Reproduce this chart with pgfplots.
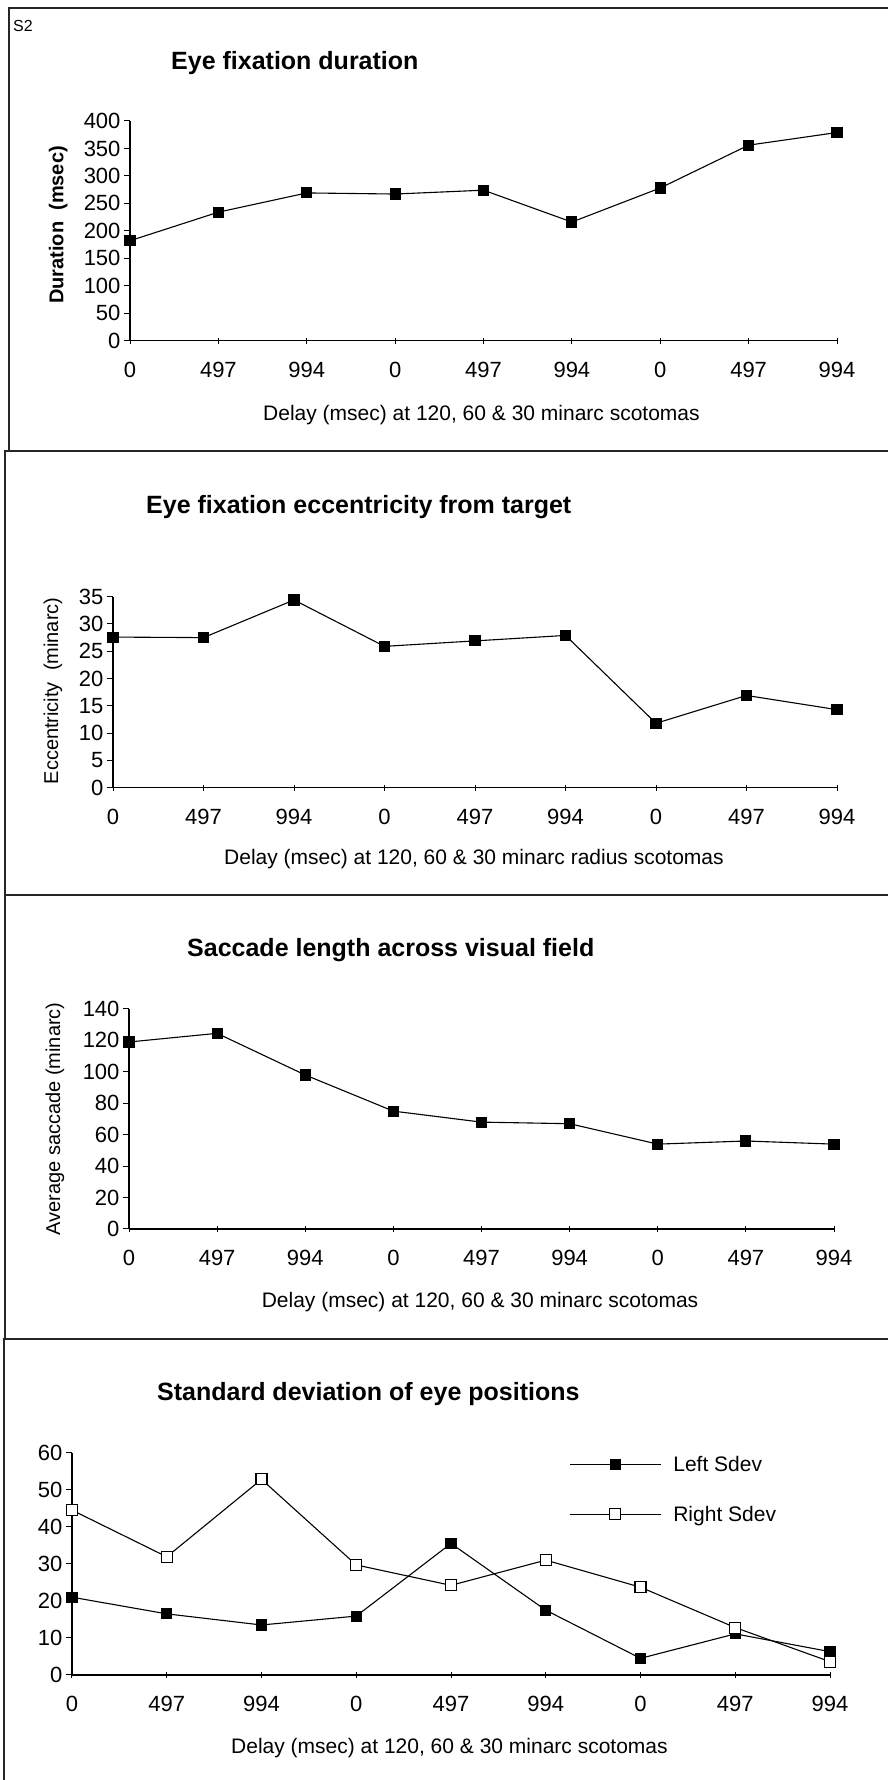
\documentclass[border=0pt]{standalone}
\usepackage{pgfplots}
\pgfplotsset{compat=1.18}
\usepackage{fontspec}
\setmainfont{Liberation Sans}

\pgfplotstableread{
x dur ecc sac lsd rsd
0 182 27.6 119   21.0 44.5
1 234 27.5 124.5 16.5 31.9
2 269 34.4 98    13.5 52.8
3 267 25.9 75    15.9 29.7
4 274 26.9 68    35.5 24.2
5 216 27.9 67    17.5 31.0
6 278 11.8 54    4.5  23.7
7 356 16.9 56    11.1 12.8
8 379 14.3 54    6.3  3.6
}\datatable

\pgfplotsset{
  myaxis/.style={
    scale only axis,
    anchor=south west,
    axis x line=bottom, axis y line=left,
    axis line style={-, line width=1.2pt},
    xmin=0, xmax=8, ymin=0,
    xtick={0,...,8},
    xticklabels={0,497,994,0,497,994,0,497,994},
    every tick/.style={black, line width=1pt},
    major tick length=6pt,
    xtick align=center, ytick align=outside,
    tick label style={font=\fontsize{22}{22}\selectfont},
    xticklabel style={yshift=-15pt},
    /pgf/number format/assume math mode=true,
    clip=false,
  },
  blk/.style={black, line width=1.1pt, mark=square*, mark size=5pt, mark options={solid, fill=black}},
  wht/.style={black, line width=1.1pt, mark=square*, mark size=5.5pt, mark options={solid, fill=white}},
}

\begin{document}
\begin{tikzpicture}
\useasboundingbox (0pt,0pt) rectangle (888pt,1780pt);
% panel frames
\begin{scope}[line width=1.3pt, black!85]
\draw (9pt,1329pt) -- (9pt,1772pt) -- (890pt,1772pt);
\draw (5pt,885pt) -- (5pt,1329pt) -- (890pt,1329pt);
\draw (5pt,441pt) -- (5pt,885pt) -- (890pt,885pt);
\draw (4pt,-5pt) -- (4pt,441pt) -- (890pt,441pt);
\end{scope}

\node[anchor=base west, inner sep=0pt, font=\fontsize{16}{16}\selectfont] at (13pt,1748pt) {S2};

% ---------- Panel 1 ----------
\node[anchor=base west, inner sep=0pt, font=\bfseries\fontsize{25}{25}\selectfont] at (171pt,1710pt) {Eye fixation duration};
\node[anchor=base west, inner sep=0pt, font=\fontsize{21}{21}\selectfont] at (263pt,1359.3pt) {Delay (msec) at 120, 60 \& 30 minarc scotomas};
\node[rotate=90, anchor=base, inner sep=0pt, font=\bfseries\fontsize{20}{20}\selectfont] at (63.4pt,1555pt) {Duration\ \ (msec)};
\begin{axis}[myaxis, at={(130pt,1439.3pt)}, width=707pt, height=219.7pt,
  ymax=400, ytick={0,50,...,400}]
\addplot[blk] table[x=x,y=dur] {\datatable};
\end{axis}

% ---------- Panel 2 ----------
\node[anchor=base west, inner sep=0pt, font=\bfseries\fontsize{25}{25}\selectfont] at (146pt,1266pt) {Eye fixation eccentricity from target};
\node[anchor=base west, inner sep=0pt, font=\fontsize{21}{21}\selectfont] at (224pt,915pt) {Delay (msec) at 120, 60 \& 30 minarc radius scotomas};
\node[rotate=90, anchor=base, inner sep=0pt, font=\fontsize{20}{20}\selectfont] at (58pt,1089pt) {Eccentricity\ \ (minarc)};
\begin{axis}[myaxis, at={(113pt,992.3pt)}, width=724pt, height=191pt,
  ymax=35, ytick={0,5,...,35}]
\addplot[blk] table[x=x,y=ecc] {\datatable};
\end{axis}

% ---------- Panel 3 ----------
\node[anchor=base west, inner sep=0pt, font=\bfseries\fontsize{25}{25}\selectfont] at (187pt,823.3pt) {Saccade length across visual field};
\node[anchor=base west, inner sep=0pt, font=\fontsize{21}{21}\selectfont] at (261.6pt,472.7pt) {Delay (msec) at 120, 60 \& 30 minarc scotomas};
\node[rotate=90, anchor=base, inner sep=0pt, font=\fontsize{20}{20}\selectfont] at (60pt,661pt) {Average saccade (minarc)};
\begin{axis}[myaxis, at={(129pt,551pt)}, width=705pt, height=220pt,
  ymax=140, ytick={0,20,...,140}]
\addplot[blk] table[x=x,y=sac] {\datatable};
\end{axis}

% ---------- Panel 4 ----------
\node[anchor=base west, inner sep=0pt, font=\bfseries\fontsize{25}{25}\selectfont] at (157pt,379.3pt) {Standard deviation of eye positions};
\node[anchor=base west, inner sep=0pt, font=\fontsize{21}{21}\selectfont] at (231pt,26pt) {Delay (msec) at 120, 60 \& 30 minarc scotomas};
\begin{axis}[myaxis, at={(72pt,105pt)}, width=758pt, height=222.3pt,
  ymax=60, ytick={0,10,...,60},
  legend cell align=left,
  legend image code/.code={\draw[#1, mark repeat=2, mark phase=2] plot coordinates {(0pt,0pt) (45.5pt,0pt) (91pt,0pt)};},
  legend style={draw=none, fill=none, inner sep=0pt,
    at={(axis description cs:0.6557,0.985)}, anchor=north west,
    font=\fontsize{21}{21}\selectfont, row sep=33pt,
    nodes={inner sep=0pt},
    /tikz/every odd column/.append style={column sep=12pt}},
  ]
\addplot[blk] table[x=x,y=lsd] {\datatable};
\addlegendentry{Left Sdev}
\addplot[wht] table[x=x,y=rsd] {\datatable};
\addlegendentry{Right Sdev}
\end{axis}
\end{tikzpicture}
\end{document}
